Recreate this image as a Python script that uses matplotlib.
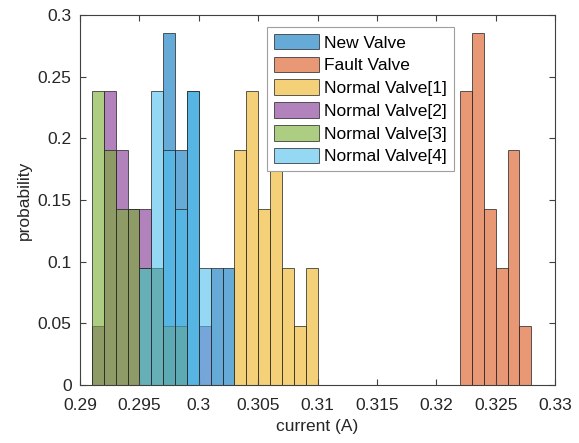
import matplotlib
matplotlib.use("Agg")
import matplotlib.pyplot as plt
from matplotlib.patches import Patch

plt.rcParams['font.family'] = ['Liberation Sans', 'DejaVu Sans']

N = 21
bin_width = 0.001

series_names = ['New Valve', 'Fault Valve', 'Normal Valve[1]', 'Normal Valve[2]',
                'Normal Valve[3]', 'Normal Valve[4]']
series_colors = [(0.0, 0.447, 0.741), (0.850, 0.325, 0.098), (0.929, 0.694, 0.125),
                 (0.494, 0.184, 0.556), (0.466, 0.674, 0.188), (0.301, 0.745, 0.933)]

new_bins = [0.297, 0.298, 0.299, 0.301, 0.302]
new_counts = [6, 4, 5, 2, 2]

fault_bins = [0.322, 0.323, 0.324, 0.325, 0.326, 0.327]
fault_counts = [5, 6, 3, 2, 4, 1]

n1_bins = [0.303, 0.304, 0.305, 0.306, 0.307, 0.308, 0.309]
n1_counts = [4, 5, 3, 4, 2, 1, 2]

n2_bins = [0.291, 0.292, 0.293, 0.294, 0.295, 0.296, 0.297, 0.298, 0.300]
n2_counts = [1, 5, 4, 3, 3, 2, 1, 1, 1]

n3_bins = [0.291, 0.292, 0.293, 0.294, 0.295, 0.296, 0.297, 0.298]
n3_counts = [5, 4, 3, 3, 2, 2, 1, 1]

n4_bins = [0.295, 0.296, 0.297, 0.298, 0.299, 0.300]
n4_counts = [2, 5, 4, 3, 5, 2]

xticks = [0.29, 0.295, 0.30, 0.305, 0.31, 0.315, 0.32, 0.325, 0.33]
xtick_labels = ['0.29', '0.295', '0.3', '0.305', '0.31', '0.315', '0.32', '0.325', '0.33']
yticks = [0, 0.05, 0.10, 0.15, 0.20, 0.25, 0.30]
ytick_labels = ['0', '0.05', '0.1', '0.15', '0.2', '0.25', '0.3']

all_bins = [new_bins, fault_bins, n1_bins, n2_bins, n3_bins, n4_bins]
all_counts = [new_counts, fault_counts, n1_counts, n2_counts, n3_counts, n4_counts]

fig = plt.figure(figsize=(5.79, 4.43), dpi=100)
ax = fig.add_axes([0.1382, 0.1309, 0.8204, 0.8352])

face_alpha = 0.6
edge_col = (0.15, 0.15, 0.15, 0.75)
handles = []
for name, col, bins, counts in zip(series_names, series_colors, all_bins, all_counts):
    probs = [c / N for c in counts]
    ax.bar(bins, probs, width=bin_width, align='edge',
           facecolor=(*col, face_alpha), edgecolor=edge_col, linewidth=0.7)
    handles.append(Patch(facecolor=(*col, face_alpha), edgecolor=edge_col,
                         linewidth=0.7, label=name))

ax.set_xlim(0.29, 0.33)
ax.set_ylim(0, 0.3)
ax.set_xticks(xticks)
ax.set_xticklabels(xtick_labels)
ax.set_yticks(yticks)
ax.set_yticklabels(ytick_labels)

axis_col = '#404040'
for sp in ax.spines.values():
    sp.set_color(axis_col)
    sp.set_linewidth(0.8)
ax.tick_params(direction='in', length=4.5, width=0.8, color=axis_col,
               labelsize=12.5, labelcolor='#262626', top=True, right=True)
ax.tick_params(axis='x', pad=9)
ax.tick_params(axis='y', pad=6)

ax.set_xlabel('current (A)', fontsize=12.5, color='#262626', labelpad=5)
ax.set_ylabel('probability', fontsize=12.5, color='#262626', labelpad=4)

leg = ax.legend(handles=handles, loc='upper left', bbox_to_anchor=(0.394, 0.968),
                fontsize=12.5, frameon=True, fancybox=False, framealpha=1,
                edgecolor='#a0a0a0', borderpad=0.4, labelspacing=0.35,
                handlelength=2.6, handleheight=1.0, handletextpad=0.3,
                borderaxespad=0.0)
leg.get_frame().set_linewidth(0.8)

fig.savefig('out.png', dpi=100)
